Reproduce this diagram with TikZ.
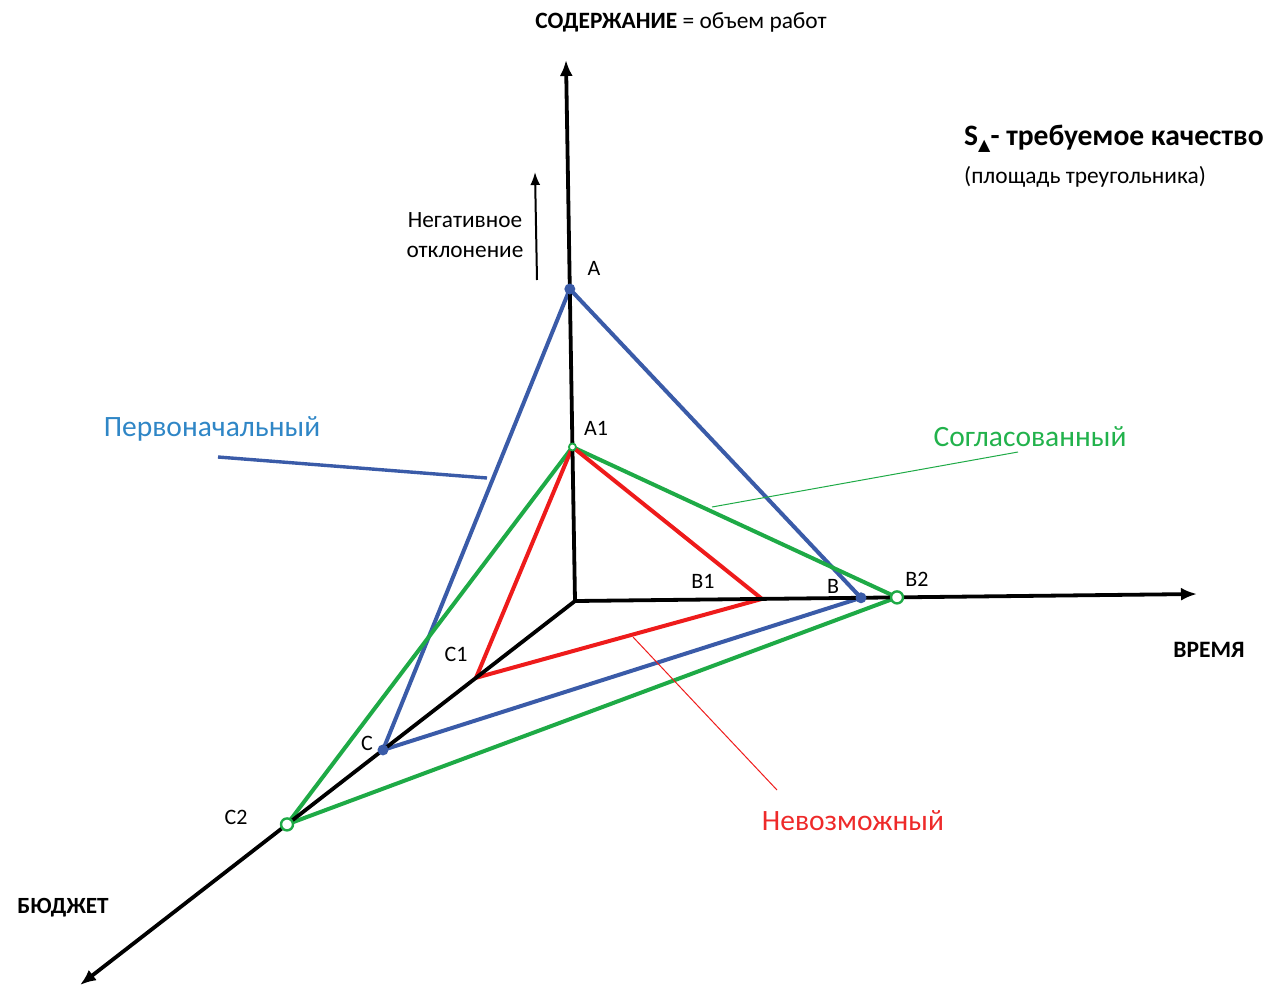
\documentclass[tikz,border=0pt]{standalone}
\usepackage{fontspec}
\setmainfont{Carlito}
\newfontfamily\dejavu{DejaVu Sans}
\usetikzlibrary{arrows.meta,calc}
\definecolor{tblue}{HTML}{3A5BA8}
\definecolor{tgreen}{HTML}{1EAA46}
\definecolor{tred}{HTML}{EE1B1B}
\definecolor{lblue}{HTML}{2F86C6}
\definecolor{lgreen}{HTML}{22B24C}
\definecolor{lred}{HTML}{EE2A2A}
\begin{document}
\begin{tikzpicture}[x=1pt,y=-1pt,
  axis/.style={line width=3.8pt,-{Latex[length=16pt,width=13pt]}},
  tri/.style={line width=4pt,line join=round},
  lbl/.style={font=\fontsize{22}{24}\selectfont,inner sep=0pt},
  legname/.style={font=\fontsize{29.5}{32}\selectfont,inner sep=0pt},
  fdot/.style={circle,fill=tblue,inner sep=0pt,minimum size=11pt},
  odot/.style={circle,draw=tgreen,fill=white,line width=2.4pt,inner sep=0pt,minimum size=12pt}]
\useasboundingbox (0,0) rectangle (1272,988);
% axes
\coordinate (O) at (575,601);
\coordinate (Ytop) at (566,60);
\coordinate (Xend) at (1197,594);
\coordinate (Zend) at (80,985);
\coordinate (A) at ($(O)!0.5767!(Ytop)$);
\coordinate (A1) at ($(O)!0.2847!(Ytop)$);
\coordinate (B1) at ($(O)!0.3006!(Xend)$);
\coordinate (B) at ($(O)!0.4598!(Xend)$);
\coordinate (B2) at ($(O)!0.5177!(Xend)$);
\coordinate (C1) at ($(O)!0.2000!(Zend)$);
\coordinate (C) at ($(O)!0.3879!(Zend)$);
\coordinate (C2) at ($(O)!0.5818!(Zend)$);
% triangles
\draw[tri,tblue] (A) -- (B) -- (C) -- cycle;
\draw[tri,tgreen] (A1) -- (B2) -- (C2) -- cycle;
\draw[tri,tred] (A1) -- (B1) -- (C1) -- cycle;
\draw[axis] (O) -- (Ytop);
\draw[axis] (O) -- (Xend);
\draw[axis] (O) -- (Zend);
% vertex markers
\node[fdot] (pA) at (A) {};
\node[fdot] (pB) at (B) {};
\node[fdot] (pC) at (C) {};
\node[odot,minimum size=7pt,line width=1.8pt] (pA1) at (A1) {};
\node[odot] (pB2) at (B2) {};
\node[odot] (pC2) at (C2) {};
% small arrow
\coordinate (n1) at (537,280);
\coordinate (n2) at (535,172);
\draw[line width=2pt,-{Latex[length=13pt,width=10pt]}] (n1) -- (n2);
% vertex labels
\node[lbl] (lA) at (594,268) {A};
\node[lbl] (lA1) at (596,428) {A1};
\node[lbl] (lB1) at (703,581) {B1};
\node[lbl] (lB) at (833,586) {B};
\node[lbl] (lB2) at (917,579) {B2};
\node[lbl] (lC1) at (456,654) {C1};
\node[lbl] (lC) at (367,743) {C};
\node[lbl] (lC2) at (236,817) {C2};
% axis labels
\node[lbl,font=\fontsize{23.4}{26}\selectfont] (title) at (681,22) {\textbf{СОДЕРЖАНИЕ} = объем работ};
\node[lbl,font=\bfseries\fontsize{23.5}{26}\selectfont] (time) at (1209,650) {ВРЕМЯ};
\node[lbl,font=\bfseries\fontsize{23.2}{26}\selectfont] (budget) at (63,908) {БЮДЖЕТ};
\node[lbl,align=center,font=\fontsize{23.3}{30}\selectfont] (neg) at (465,235) {Негативное\\отклонение};
\node[lbl,anchor=west,font=\bfseries\fontsize{29.6}{32}\selectfont] (S) at (964,139) {S\raisebox{-0.35ex}{\dejavu\fontsize{16}{16}\selectfont ▲}- требуемое качество};
\node[lbl,anchor=west,font=\fontsize{23.4}{26}\selectfont] (Sa) at (964,177) {(площадь треугольника)};
% legend names
\node[legname,text=lblue] (nB) at (212,429) {Первоначальный};
\node[legname,text=lgreen] (nG) at (1030,437) {Согласованный};
\node[legname,text=lred] (nR) at (853,821) {Невозможный};
\coordinate (pb1) at (218,457);
\coordinate (pb2) at (487,478);
\coordinate (pg1) at (1018,452);
\coordinate (pg2) at (712,507);
\coordinate (pr1) at (633,637);
\coordinate (pr2) at (777,790);
\draw[tblue,line width=3.4pt] (pb1) -- (pb2);
\draw[tgreen,line width=1pt] (pg1) -- (pg2);
\draw[tred,line width=1pt] (pr1) -- (pr2);
\end{tikzpicture}
\end{document}
